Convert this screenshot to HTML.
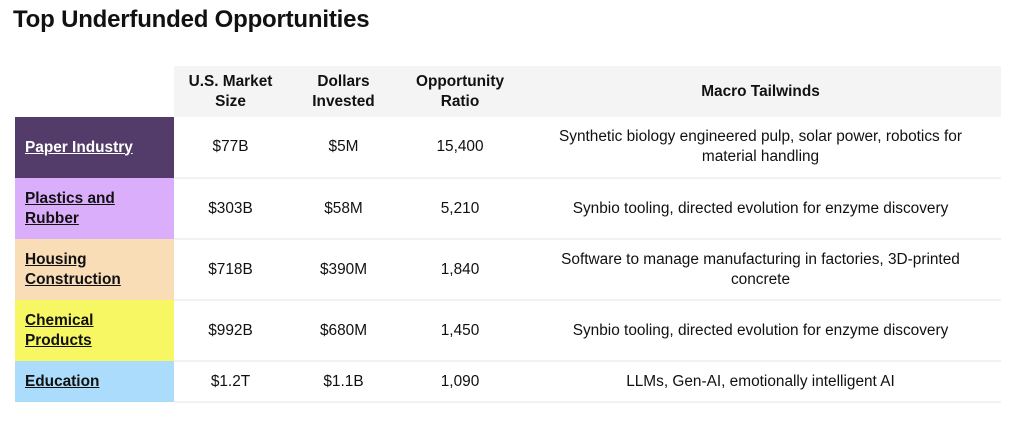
<!DOCTYPE html>
<html><head><meta charset="utf-8"><style>
*{margin:0;padding:0;box-sizing:border-box}
body{width:1031px;height:424px;background:#fff;font-family:"Liberation Sans",Arial,sans-serif;color:#111;position:relative;overflow:hidden}
h1{position:absolute;left:13px;top:6px;font-size:24px;font-weight:bold;letter-spacing:-0.2px}
table{position:absolute;left:15px;top:66px;border-collapse:collapse;table-layout:fixed;width:986px}
td,th{text-align:center;vertical-align:middle;font-size:15.4px;line-height:20px}
th{background:#f4f4f4;font-weight:bold;height:51px}
th.blank{background:#fff}
td{height:61px;border-bottom:2px solid #f2f2f2}
tr.last td{height:41px}
td.name{text-align:left;padding-left:10px;font-weight:bold;border-bottom:none}
td.name a{color:#111;text-decoration:underline}
</style></head><body>
<h1>Top Underfunded Opportunities</h1>
<table>
<colgroup><col style="width:159px"><col style="width:113px"><col style="width:113px"><col style="width:120px"><col style="width:481px"></colgroup>
<tr><th class="blank"></th><th>U.S. Market<br>Size</th><th>Dollars<br>Invested</th><th>Opportunity<br>Ratio</th><th>Macro Tailwinds</th></tr>
<tr><td class="name" style="background:#533c6a"><a style="color:#fff">Paper Industry</a></td><td>$77B</td><td>$5M</td><td>15,400</td><td>Synthetic biology engineered pulp, solar power, robotics for<br>material handling</td></tr>
<tr><td class="name" style="background:#dbaefb"><a>Plastics and<br>Rubber</a></td><td>$303B</td><td>$58M</td><td>5,210</td><td>Synbio tooling, directed evolution for enzyme discovery</td></tr>
<tr><td class="name" style="background:#f9ddb6"><a>Housing<br>Construction</a></td><td>$718B</td><td>$390M</td><td>1,840</td><td>Software to manage manufacturing in factories, 3D-printed<br>concrete</td></tr>
<tr><td class="name" style="background:#f7f764"><a>Chemical<br>Products</a></td><td>$992B</td><td>$680M</td><td>1,450</td><td>Synbio tooling, directed evolution for enzyme discovery</td></tr>
<tr class="last"><td class="name" style="background:#abdcfb"><a>Education</a></td><td>$1.2T</td><td>$1.1B</td><td>1,090</td><td>LLMs, Gen-AI, emotionally intelligent AI</td></tr>
</table>
</body></html>
